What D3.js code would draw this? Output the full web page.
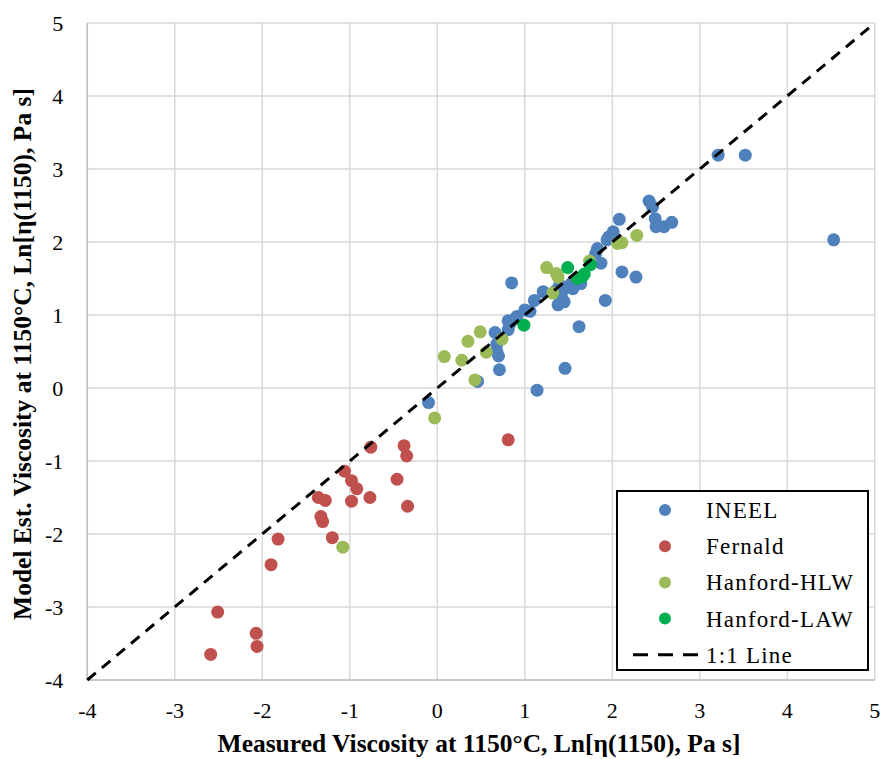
<!DOCTYPE html>
<html lang="en">
<head>
<meta charset="UTF-8">
<title>Viscosity model vs measured</title>
<script src="https://d3js.org/d3.v7.min.js"></script>
<style>
  body { margin: 0; background: #fff; }
  text { font-family: "Liberation Serif", "DejaVu Serif", serif; fill: #000; }
  .grid line { stroke: #d9d9d9; stroke-width: 1.5px; }
  .tick-label { font-size: 22px; }
  .title { font-size: 25.5px; font-weight: bold; }
  .legend text { font-size: 23px; letter-spacing: 1.2px; }
</style>
</head>
<body>
<svg></svg>
<script>
const [width, height] = [880, 759]
const margin = {left: 87.3, top: 23, right: 5.2, bottom: 79}

const xTicks = [-4, -3, -2, -1, 0, 1, 2, 3, 4, 5]
const yTicks = [-4, -3, -2, -1, 0, 1, 2, 3, 4, 5]

// [measured, model]
const ineel = [[2.42,2.56],[2.46,2.48],[2.08,2.31],[2.49,2.32],[2.50,2.21],[2.59,2.21],[2.68,2.27],
  [2.01,2.14],[1.96,2.07],[1.94,2.03],[1.83,1.91],[1.81,1.84],[1.87,1.71],[2.11,1.59],[2.27,1.52],
  [0.85,1.44],[1.21,1.32],[1.11,1.20],[1.40,1.41],[1.36,1.34],[1.45,1.36],[1.53,1.43],[1.55,1.36],
  [1.64,1.43],[1.42,1.25],[1.45,1.18],[1.38,1.14],[1.60,1.48],[1.92,1.20],[1.00,1.07],[1.06,1.05],
  [0.91,0.98],[0.81,0.92],[0.89,0.95],[0.83,0.88],[1.62,0.84],[0.81,0.80],[0.66,0.76],[0.68,0.60],
  [0.68,0.50],[0.70,0.44],[0.71,0.25],[1.46,0.27],[0.46,0.09],[1.14,-0.03],[-0.10,-0.20],
  [4.53,2.03],[3.21,3.19],[3.52,3.19]]
const fernald = [[-0.76,-0.81],[-0.38,-0.79],[-0.35,-0.93],[-1.06,-1.14],[-0.98,-1.27],[-0.92,-1.38],
  [-0.46,-1.25],[-1.36,-1.50],[-1.28,-1.54],[-0.98,-1.55],[-0.77,-1.50],[-0.34,-1.62],[-1.33,-1.76],
  [-1.31,-1.83],[-1.20,-2.05],[-1.82,-2.07],[-1.90,-2.42],[-2.51,-3.07],[-2.07,-3.36],[-2.06,-3.54],
  [-2.59,-3.65],[0.81,-0.71]]
const hanfordHLW = [[2.28,2.09],[2.06,1.98],[2.11,1.99],[1.25,1.65],[1.36,1.57],[1.38,1.52],[1.74,1.74],
  [1.32,1.30],[0.49,0.77],[0.35,0.64],[0.74,0.67],[0.56,0.49],[0.08,0.43],[0.28,0.38],[0.43,0.11],
  [-0.03,-0.41],[-1.08,-2.18]]
const hanfordLAW = [[1.49,1.65],[1.75,1.69],[1.60,1.50],[1.66,1.53],[1.68,1.56],[0.99,0.86]]
const oneToOne = [[-4,-4],[5,5]]

const series = [
  {name: 'INEEL', data: ineel, color: '#4f81bd'},
  {name: 'Fernald', data: fernald, color: '#c0504d'},
  {name: 'Hanford-HLW', data: hanfordHLW, color: '#9bbb59'},
  {name: 'Hanford-LAW', data: hanfordLAW, color: '#00b050'}
]

const svg = d3.select('svg').attr('width', width).attr('height', height)

const x = d3.scaleLinear().domain([-4, 5]).range([margin.left, width - margin.right])
const y = d3.scaleLinear().domain([-4, 5]).range([height - margin.bottom, margin.top])

// grid
const grid = svg.append('g').attr('class', 'grid')
grid.selectAll('.v').data(xTicks).join('line')
  .attr('x1', d => x(d)).attr('x2', d => x(d))
  .attr('y1', y(-4)).attr('y2', y(5))
grid.selectAll('.h').data(yTicks).join('line')
  .attr('y1', d => y(d)).attr('y2', d => y(d))
  .attr('x1', x(-4)).attr('x2', x(5))

// axis lines
svg.append('line').attr('x1', x(-4)).attr('x2', x(5)).attr('y1', y(-4)).attr('y2', y(-4))
  .attr('stroke', '#bfbfbf').attr('stroke-width', 1.5)
svg.append('line').attr('x1', x(-4)).attr('x2', x(-4)).attr('y1', y(-4)).attr('y2', y(5))
  .attr('stroke', '#bfbfbf').attr('stroke-width', 1.5)

// tick labels
svg.append('g').selectAll('text').data(xTicks).join('text')
  .attr('class', 'tick-label')
  .attr('x', d => x(d)).attr('y', y(-4) + 38)
  .attr('text-anchor', 'middle').text(d => d)
svg.append('g').selectAll('text').data(yTicks).join('text')
  .attr('class', 'tick-label')
  .attr('x', x(-4) - 24).attr('y', d => y(d) + 8)
  .attr('text-anchor', 'end').text(d => d)

// points
series.forEach(s => {
  svg.append('g').selectAll('circle').data(s.data).join('circle')
    .attr('cx', d => x(d[0])).attr('cy', d => y(d[1]))
    .attr('r', 6.5).attr('fill', s.color)
})

// 1:1 line
svg.append('path')
  .attr('d', d3.line().x(d => x(d[0])).y(d => y(d[1]))(oneToOne))
  .attr('fill', 'none').attr('stroke', '#000').attr('stroke-width', 3)
  .attr('stroke-dasharray', '11,8')

// titles
svg.append('text').attr('class', 'title')
  .attr('x', 479).attr('y', 752)
  .attr('text-anchor', 'middle')
  .text('Measured Viscosity at 1150°C, Ln[η(1150), Pa s]')
svg.append('text').attr('class', 'title')
  .attr('transform', 'translate(31, 354)rotate(-90)')
  .attr('text-anchor', 'middle')
  .text('Model Est. Viscosity at 1150°C, Ln[η(1150), Pa s]')

// legend
const legend = svg.append('g').attr('class', 'legend')
legend.append('rect').attr('x', 617).attr('y', 491).attr('width', 251).attr('height', 179)
  .attr('fill', '#fff').attr('stroke', '#000').attr('stroke-width', 2)
const items = legend.selectAll('g.item').data([...series, {name: '1:1 Line', line: true}])
  .join('g').attr('class', 'item')
  .attr('transform', (d, i) => `translate(0, ${510 + i * 36.2})`)
items.filter(d => !d.line).append('circle')
  .attr('cx', 665).attr('cy', 0).attr('r', 6).attr('fill', d => d.color)
items.filter(d => d.line).append('line')
  .attr('x1', 633).attr('x2', 698).attr('y1', 0).attr('y2', 0)
  .attr('stroke', '#000').attr('stroke-width', 3).attr('stroke-dasharray', '15,10')
items.append('text').attr('x', 706).attr('y', 8).text(d => d.name)
</script>
</body>
</html>
